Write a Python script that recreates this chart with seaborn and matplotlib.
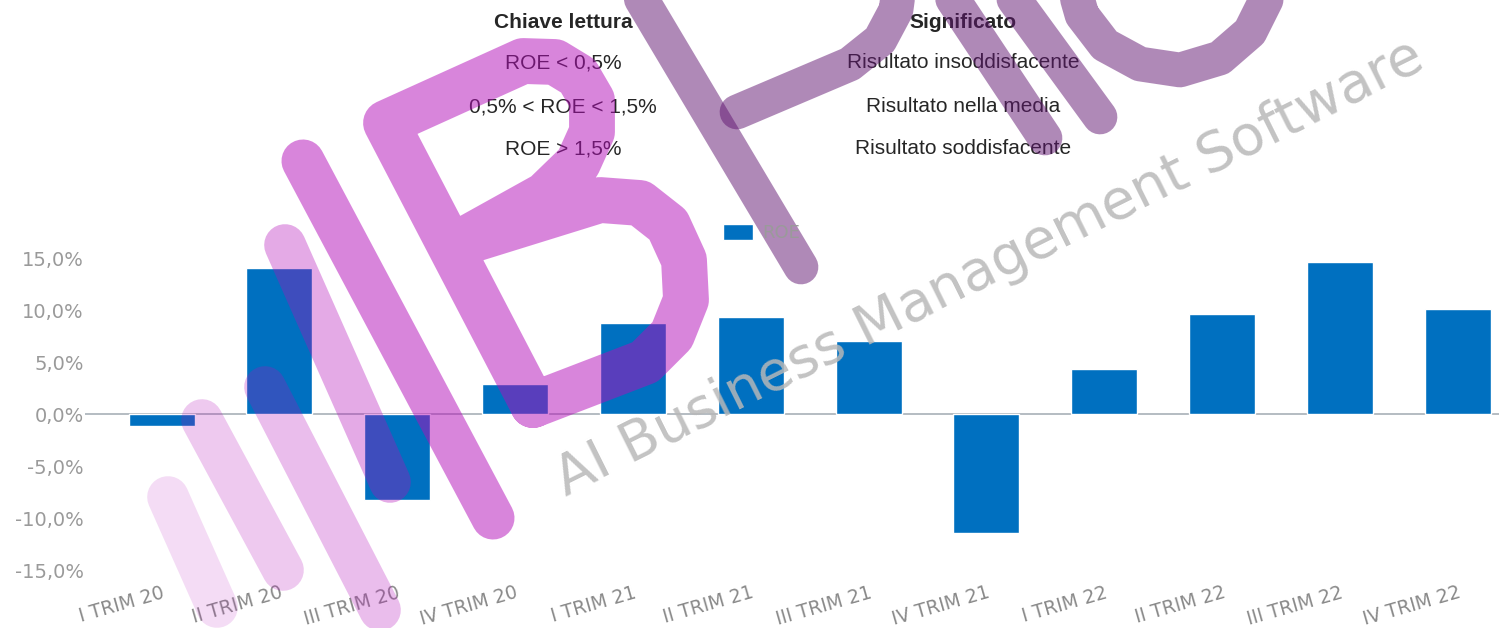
import seaborn as sns
import numpy as np
import pandas as pd
import matplotlib.pyplot as plt
from matplotlib.ticker import FuncFormatter

# ROE trimestrale con tabella di lettura in testa

quarters = ['I TRIM 20', 'II TRIM 20', 'III TRIM 20', 'IV TRIM 20',
            'I TRIM 21', 'II TRIM 21', 'III TRIM 21', 'IV TRIM 21',
            'I TRIM 22', 'II TRIM 22', 'III TRIM 22', 'IV TRIM 22']
roe = [-1.15, 14.0, -8.3, 2.9, 8.75, 9.3, 7.0, -11.4, 4.3, 9.6, 14.6, 10.1]

key_header = 'Chiave lettura'
meaning_header = 'Significato'
key_rows = ['ROE < 0,5%', '0,5% < ROE < 1,5%', 'ROE > 1,5%']
meaning_rows = ['Risultato insoddisfacente', 'Risultato nella media',
                'Risultato soddisfacente']

yticks = [-15, -10, -5, 0, 5, 10, 15]

df = pd.DataFrame({'quarter': quarters, 'roe': roe})

sns.set_style('white')
plt.rcParams['font.family'] = ['DejaVu Sans']

W, H = 1499, 628
fig = plt.figure(figsize=(W / 100, H / 100), dpi=100)
ax = fig.add_axes([85 / W, 1 - 580.4 / H, 1 - 85 / W, 332.8 / H])

sns.barplot(data=df, x='quarter', y='roe', color='#0070c0', width=0.56,
            saturation=1, label='ROE', ax=ax, zorder=2)
ax.axhline(0, color='#a8b0b8', lw=1.2, zorder=1)

ax.set_xlim(-0.65, 11.35)
ax.set_ylim(-16, 16)
ax.set_yticks(yticks)
ax.yaxis.set_major_formatter(FuncFormatter(lambda v, p: f'{v:.1f}%'.replace('.', ',')))
ax.set_xlabel('')
ax.set_ylabel('')
for s in ax.spines.values():
    s.set_visible(False)
ax.tick_params(axis='y', length=0, pad=1, labelsize=14, labelcolor='#9a9a9a')
ax.tick_params(axis='x', length=0, pad=2, labelsize=13.5, labelcolor='#8a8a8a')
for lab in ax.get_xticklabels():
    lab.set_rotation(16)
    lab.set_ha('right')
    lab.set_rotation_mode('anchor')

if ax.get_legend():
    ax.get_legend().remove()
h, l = ax.get_legend_handles_labels()
fig.legend(h, l, loc='center', bbox_to_anchor=(0.508, 1 - 233 / H), frameon=False,
           fontsize=13, labelcolor='#9a9a9a', handlelength=1.7, handleheight=1.0,
           handletextpad=0.5)

# tabella di lettura
tfont = ['Liberation Sans Narrow', 'Liberation Sans', 'DejaVu Sans']
fig.text(563 / W, 1 - 22 / H, key_header, ha='center', va='center',
         fontsize=15, fontweight='bold', family=tfont)
fig.text(963 / W, 1 - 22 / H, meaning_header, ha='center', va='center',
         fontsize=15, fontweight='bold', family=tfont)
row_y = [63, 107, 149]
for y, k, m in zip(row_y, key_rows, meaning_rows):
    fig.text(563 / W, 1 - y / H, k, ha='center', va='center',
             fontsize=15, family=tfont)
    fig.text(963 / W, 1 - y / H, m, ha='center', va='center',
             fontsize=15, family=tfont)

# filigrana (logo + scritta), in pixel della figura
ov = fig.add_axes([0, 0, 1, 1], zorder=5)
ov.set_xlim(0, W)
ov.set_ylim(H, 0)
ov.axis('off')
ov.patch.set_alpha(0)

pink = '#b30db9'
purple = '#611571'
strokes = [
    ([(168, 497), (217, 607)], pink, 0.14, 30),
    ([(202, 420), (283, 570)], pink, 0.22, 30),
    ([(265, 387), (380, 610)], pink, 0.27, 30),
    ([(285, 245), (390, 482)], pink, 0.35, 30),
    ([(303, 161), (493, 518)], pink, 0.5, 31),
    ([(533, 405), (386, 123), (523, 61), (555, 62), (578, 76), (592, 100),
      (592, 132), (578, 163), (545, 195), (455, 245), (600, 200), (640, 203),
      (668, 225), (684, 260), (686, 300), (672, 335), (645, 362), (533, 405)],
     pink, 0.5, 33),
    ([(630, -20), (801, 267)], purple, 0.5, 25),
    ([(737, 112), (850, 64), (880, 40), (896, 10), (900, -20)], purple, 0.5, 25),
    ([(940, -20), (1045, 138)], purple, 0.5, 25),
    ([(1000, -20), (1100, 117)], purple, 0.5, 25),
    ([(1072, -20), (1082, 15), (1105, 45), (1140, 64), (1180, 70), (1220, 58),
      (1250, 32), (1266, 0), (1270, -20)], purple, 0.5, 25),
]
for pts, col, a, w in strokes:
    xs, ys = zip(*pts)
    ov.plot(xs, ys, color=col, alpha=a, lw=w, solid_capstyle='round',
            solid_joinstyle='round')

ov.text(990, 268, 'AI Business Management Software', ha='center', va='center',
        rotation=26.5, fontsize=40, color='#b8b8b8', alpha=0.85)

fig.savefig('out.png', dpi=100)
plt.close(fig)
